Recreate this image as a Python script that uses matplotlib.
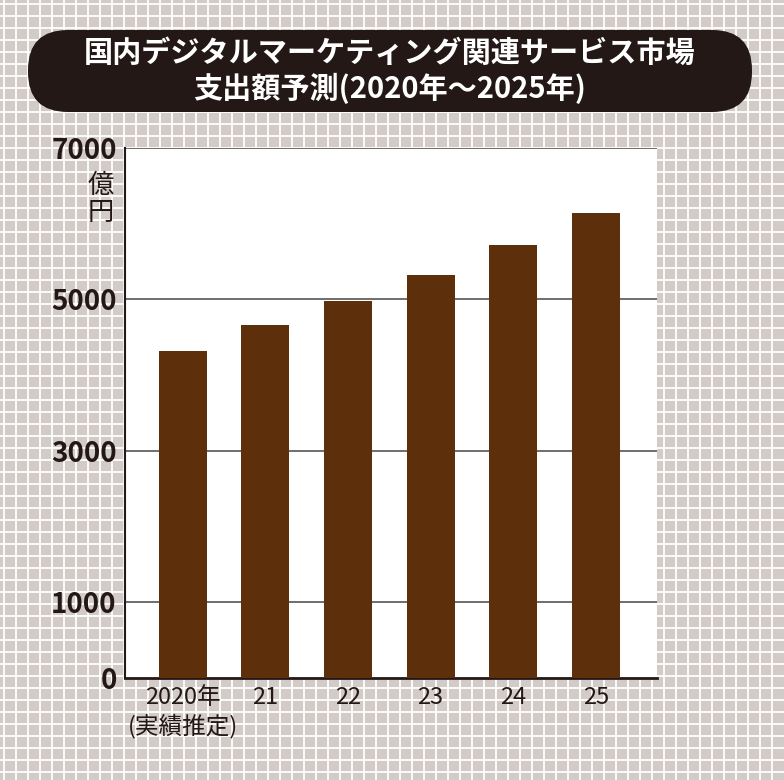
import matplotlib
matplotlib.use("Agg")
import matplotlib.pyplot as plt
from matplotlib.patches import FancyBboxPatch
import numpy as np

plt.rcParams['font.family'] = ['Noto Sans CJK JP', 'DejaVu Sans']

categories = ["2020年\n(実績推定)", "21", "22", "23", "24", "25"]
values = [4325, 4656, 4974, 5318, 5715, 6139]
yticks = [0, 1000, 3000, 5000, 7000]
title = "国内デジタルマーケティング関連サービス市場\n支出額予測(2020年〜2025年)"

W, H = 784, 780
fig = plt.figure(figsize=(7.84, 7.80), dpi=100)
fig.patch.set_facecolor("#d2cbc7")
bg = fig.add_axes([0, 0, 1, 1])
bg.set_xlim(0, W); bg.set_ylim(H, 0); bg.axis("off")
for x in np.arange(4, W, 12):
    bg.axvline(x, color="white", lw=1.3, zorder=1)
for y in np.arange(4, H, 12):
    bg.axhline(y, color="white", lw=1.3, zorder=1)
box = FancyBboxPatch((28, 30), 724, 82, boxstyle="round,pad=0,rounding_size=40",
                     facecolor="#231815", edgecolor="none", zorder=5)
bg.add_patch(box)
bg.text(390, 71, title, color="white", fontsize=21, fontweight="bold",
        ha="center", va="center", linespacing=1.2, zorder=6)

ax = fig.add_axes([125/W, 1-678/H, 532/W, 530/H])
ax.set_facecolor("white")
x = np.arange(len(values))
ax.bar(x, values, width=0.58, color="#5e2f0b", zorder=3)
ax.set_xlim(-0.7, 5.74)
ax.set_ylim(0, 7000)
for v in yticks[1:]:
    ax.axhline(v, color="#555555", lw=1.2, zorder=1)
for s in ["top", "right"]:
    ax.spines[s].set_visible(False)
ax.spines["left"].set_color("#231815"); ax.spines["left"].set_linewidth(1.5)
ax.spines["bottom"].set_color("#231815"); ax.spines["bottom"].set_linewidth(2)
ax.set_yticks(yticks)
ax.set_yticklabels([str(v) for v in yticks], fontsize=20, fontweight="bold", color="#231815")
ax.tick_params(axis="y", length=0, pad=6)
ax.set_xticks(x)
ax.set_xticklabels(categories, fontsize=17, color="#231815", va="top")
ax.tick_params(axis="x", length=0, pad=6)
ax.text(-0.02, 0.955, "億\n円", transform=ax.transAxes, ha="right", va="top",
        fontsize=19, color="#231815", linespacing=1.0)

fig.savefig("out.png", dpi=100, facecolor=fig.get_facecolor())
